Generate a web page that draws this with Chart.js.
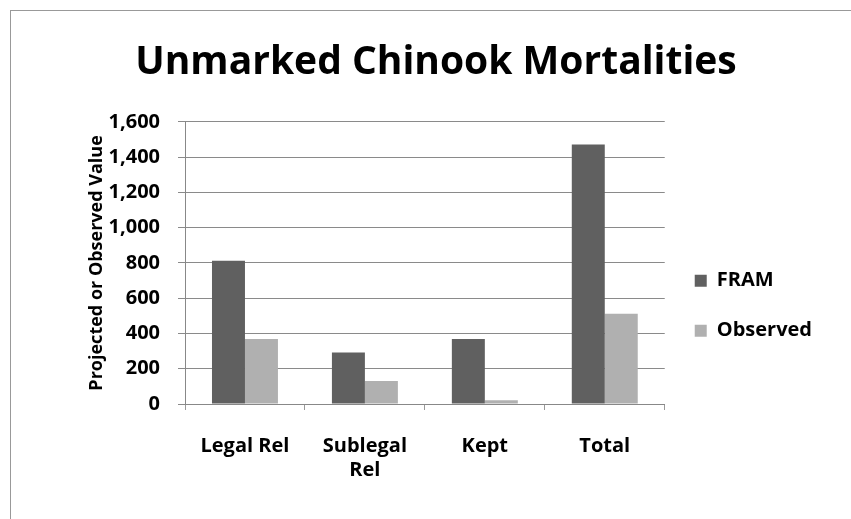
<!DOCTYPE html>
<html>
<head>
<meta charset="utf-8">
<script src="https://cdn.jsdelivr.net/npm/chart.js@4"></script>
<style>
    body { margin: 0; background: #fff; overflow: hidden; }
    #frame {
        position: absolute; left: 10px; top: 10px;
        width: 841px; height: 509px;
        border-top: 1px solid #999; border-left: 1px solid #999;
        overflow: hidden;
    }
    #chart { position: absolute; left: 0; top: 0; }
</style>
</head>
<body>
<div id="frame"><canvas id="chart" width="840" height="508"></canvas></div>
<script>
let categories = ["Legal Rel", ["Sublegal", "Rel"], "Kept", "Total"];
let framValues = [812, 292, 368, 1471];
let observedValues = [368, 131, 21, 512];
let yTicks = [0, 200, 400, 600, 800, 1000, 1200, 1400, 1600];

const font = "'Open Sans', Lato, sans-serif";

document.addEventListener("DOMContentLoaded", function() {
    const ctx = document.getElementById("chart").getContext("2d");
    new Chart(ctx, {
        type: "bar",
        data: {
            labels: categories,
            datasets: [
                { label: "FRAM", data: framValues, backgroundColor: "#606060" },
                { label: "Observed", data: observedValues, backgroundColor: "#b0b0b0" }
            ]
        },
        options: {
            responsive: false,
            animation: false,
            layout: { padding: { left: 39, right: 29, top: 0, bottom: 13 } },
            datasets: { bar: { categoryPercentage: 0.55, barPercentage: 1 } },
            plugins: {
                title: {
                    display: true,
                    text: "Unmarked Chinook Mortalities",
                    color: "#000",
                    font: { family: font, size: 39, weight: "bold" },
                    padding: { top: 28, bottom: 36 }
                },
                legend: {
                    position: "right",
                    // blank title only pushes the items down, like the original
                    title: { display: true, text: " ", font: { size: 12 }, padding: { top: 80, bottom: 0 } },
                    labels: {
                        boxWidth: 12, boxHeight: 12,
                        padding: 30,
                        color: "#000",
                        font: { family: font, size: 20, weight: "bold" }
                    }
                },
                tooltip: { enabled: false }
            },
            scales: {
                x: {
                    grid: { drawOnChartArea: false, tickLength: 6, color: "#999" },
                    border: { color: "#888" },
                    ticks: { color: "#000", padding: 24, maxRotation: 0, font: { family: font, size: 20, weight: "bold" } }
                },
                y: {
                    min: 0, max: 1600,
                    afterBuildTicks: axis => { axis.ticks = yTicks.map(v => ({ value: v })); },
                    afterFit: axis => { axis.width = 135; },
                    grid: { color: "#8a8a8a", tickLength: 7 },
                    border: { color: "#888" },
                    ticks: {
                        color: "#000", padding: 18,
                        font: { family: font, size: 20, weight: "bold" },
                        callback: v => v.toLocaleString("en-US")
                    },
                    title: {
                        display: true,
                        text: "Projected or Observed Value",
                        color: "#000",
                        padding: { top: 36, bottom: 0 },
                        font: { family: font, size: 18, weight: "bold" }
                    }
                }
            }
        }
    });
});
</script>
</body>
</html>
